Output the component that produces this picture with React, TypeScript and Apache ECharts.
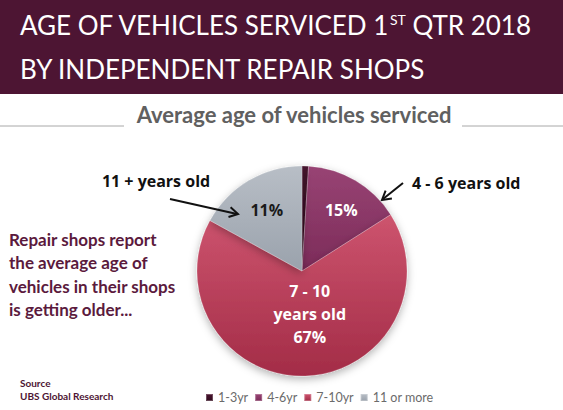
import React, { useEffect, useRef } from "react";
import * as echarts from "echarts";

const categories = ["1-3yr", "4-6yr", "7-10yr", "11 or more"];
const shares = [1, 15, 67, 17];
const sliceLabels = ["", "15%", "7 - 10\nyears old\n67%", "11%"];
const titleLines = ["AGE OF VEHICLES SERVICED 1", "ST", " QTR 2018", "BY INDEPENDENT REPAIR SHOPS"];
const subtitle = "Average age of vehicles serviced";
const noteText = ["Repair shops report", "the average age of", "vehicles in their shops", "is getting older..."];
const calloutLeft = "11 + years old";
const calloutRight = "4 - 6 years old";
const sourceLines = ["Source", "UBS Global Research"];

const sliceColors = [
  ["#4a1530", "#30091c"],
  ["#984474", "#7c2b59"],
  ["#cd546e", "#a32c47"],
  ["#b8bec6", "#9aa2ac"],
];
const labelColors = ["#ffffff", "#ffffff", "#ffffff", "#1a1a1a"];
const labelOffsets = [[0, 0], [11, -13], [6, -12], [-7, -13]];

export default function App() {
  const ref = useRef<HTMLDivElement>(null);
  useEffect(() => {
    if (!ref.current) return;
    const chart = echarts.init(ref.current, null, { renderer: "svg" });
    const data = categories.map((name, i) => ({
      name,
      value: shares[i],
      itemStyle: {
        color: {
          type: "linear",
          x: 0, y: 0, x2: 0, y2: 1,
          colorStops: [
            { offset: 0, color: sliceColors[i][0] },
            { offset: 1, color: sliceColors[i][1] },
          ],
        },
      },
      label: {
        show: sliceLabels[i] !== "",
        formatter: sliceLabels[i],
        color: labelColors[i],
        offset: labelOffsets[i],
      },
    }));
    chart.setOption({
      animation: false,
      backgroundColor: "#ffffff",
      legend: {
        data: categories,
        left: 200,
        top: 386,
        icon: "rect",
        itemWidth: 7,
        itemHeight: 7,
        itemGap: 6,
        textStyle: { fontFamily: "Lato", fontSize: 12.5, color: "#6b6b6b" },
      },
      graphic: [
        { type: "rect", shape: { x: 0, y: 0, width: 563, height: 94 }, style: { fill: "#4d1533" }, z: 0 },
        {
          type: "text", x: 20, y: 25, z: 2,
          style: {
            text: `{t|${titleLines[0]}}{s|${titleLines[1]}}{t|${titleLines[2]}}`,
            textVerticalAlign: "middle",
            rich: {
              t: { fontFamily: "Lato", fontSize: 26, fill: "#ffffff", color: "#ffffff", verticalAlign: "bottom" },
              s: { fontFamily: "Lato", fontSize: 14, fill: "#ffffff", color: "#ffffff", verticalAlign: "top" },
            },
          },
        },
        {
          type: "text", x: 20, y: 69, z: 2,
          style: { text: titleLines[3], font: "26px Lato", fill: "#ffffff", textVerticalAlign: "middle" },
        },
        { type: "line", shape: { x1: 0, y1: 126, x2: 124, y2: 126 }, style: { stroke: "#a8a8a8", lineWidth: 1 } },
        { type: "line", shape: { x1: 462, y1: 126, x2: 563, y2: 126 }, style: { stroke: "#a8a8a8", lineWidth: 1 } },
        {
          type: "text", x: 294, y: 114,
          style: { text: subtitle, font: "bold 22px Lato", fill: "#606060", textAlign: "center", textVerticalAlign: "middle" },
        },
        {
          type: "text", x: 156, y: 181,
          style: { text: calloutLeft, font: "bold 16px 'Open Sans'", fill: "#111111", textAlign: "center", textVerticalAlign: "middle" },
        },
        {
          type: "text", x: 412, y: 183,
          style: { text: calloutRight, font: "bold 16px 'Open Sans'", fill: "#111111", textAlign: "left", textVerticalAlign: "middle" },
        },
        { type: "line", shape: { x1: 170, y1: 199, x2: 237, y2: 214 }, style: { stroke: "#111111", lineWidth: 2 }, z: 5 },
        { type: "polyline", shape: { points: [[230.6, 207.3], [238, 214], [228.5, 217]] }, style: { stroke: "#111111", lineWidth: 2, fill: null }, z: 5 },
        { type: "line", shape: { x1: 403, y1: 183, x2: 383, y2: 199 }, style: { stroke: "#111111", lineWidth: 2 }, z: 5 },
        { type: "polyline", shape: { points: [[391.9, 198.4], [382, 200], [385.6, 190.6]] }, style: { stroke: "#111111", lineWidth: 2, fill: null }, z: 5 },
        {
          type: "text", x: 9, y: 228,
          style: { text: noteText.join("\n"), font: "bold 17px Lato", lineHeight: 23.3, fill: "#5b1a3d", textVerticalAlign: "top" },
        },
        {
          type: "text", x: 20, y: 376,
          style: { text: sourceLines.join("\n"), font: "bold 10px Lato", lineHeight: 13, fill: "#4d1533", textVerticalAlign: "top" },
        },
      ],
      series: [
        {
          type: "pie",
          center: [302, 271],
          radius: 105,
          startAngle: 90,
          clockwise: true,
          data,
          label: {
            position: "inside",
            fontFamily: "Open Sans",
            fontWeight: "bold",
            fontSize: 16,
            lineHeight: 23,
            align: "center",
          },
          labelLine: { show: false },
          itemStyle: {
            borderColor: "rgba(255,255,255,0.25)",
            borderWidth: 0.8,
            shadowBlur: 8,
            shadowOffsetY: 3,
            shadowColor: "rgba(0,0,0,0.3)",
          },
          emphasis: { disabled: true },
        },
      ],
    });
    return () => chart.dispose();
  }, []);
  return <div ref={ref} style={{ position: "fixed", left: 0, top: 0, width: 563, height: 410 }} />;
}
